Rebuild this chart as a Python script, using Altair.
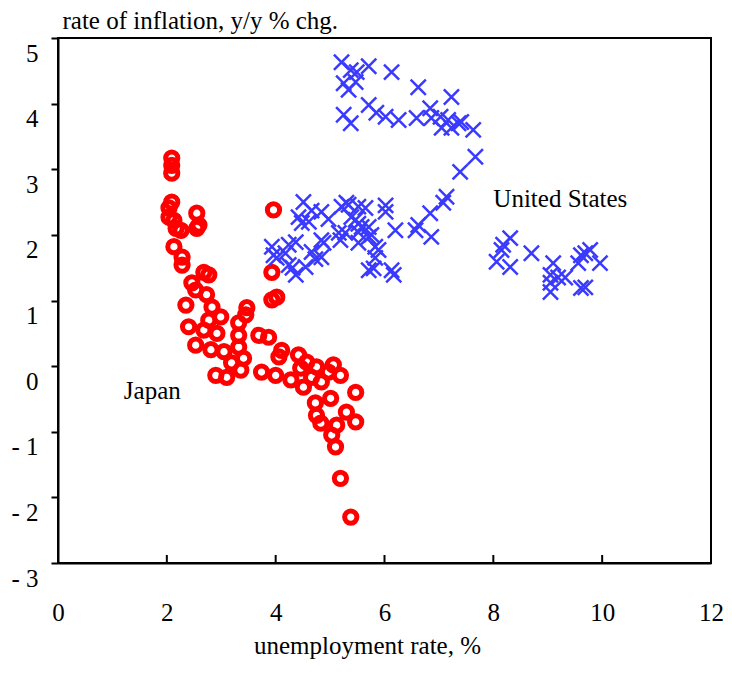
import altair as alt
import pandas as pd

# Japan: unemployment rate (%), inflation (y/y %)
jp_u = [2.09, 2.09, 2.09, 2.09, 2.04, 2.04, 2.13, 2.17, 2.26, 2.55, 2.59, 2.55, 2.13, 2.28, 2.28,
        3.96, 3.93, 4.02, 3.93, 2.68, 2.77, 2.46, 2.53, 2.73, 2.35, 2.83, 2.99, 2.77, 3.47, 3.45,
        3.32, 2.40, 2.68, 2.92, 3.32, 3.69, 3.87, 2.53, 2.81, 3.05, 3.32, 3.41, 3.19, 2.90, 3.10,
        3.36, 3.74, 4.00, 4.06, 4.11, 4.28, 4.42, 4.46, 4.51, 4.57, 4.66, 4.75, 4.84, 4.97, 5.06,
        5.19, 5.47, 5.01, 4.73, 4.75, 4.83, 5.30, 5.47, 5.12, 5.03, 5.10, 5.19, 5.38]
jp_i = [3.17, 3.06, 2.94, 2.50, 2.41, 2.27, 2.22, 2.10, 2.07, 2.33, 2.15, 2.10, 1.82, 1.66, 1.54,
        2.38, 1.43, 1.05, 1.01, 1.43, 1.39, 1.27, 1.16, 1.09, 0.93, 0.90, 0.75, 0.70, 0.89, 0.78,
        0.66, 0.60, 0.55, 0.50, 0.47, 0.47, 0.44, 0.32, 0.25, 0.22, 0.29, 0.12, 0.05, -0.14, -0.17,
        -0.06, -0.09, -0.14, 0.14, 0.24, -0.21, 0.17, -0.03, -0.32, 0.06, -0.17, -0.01, -0.24, -0.09, 0.02,
        -0.14, -0.40, -0.49, -0.56, -0.75, -0.87, -0.70, -0.85, -0.90, -1.05, -1.23, -1.71, -2.30]

# United States: unemployment rate (%), inflation (y/y %)
us_u = [5.21, 5.38, 5.49, 5.71, 6.13, 5.25, 5.47, 5.34, 6.62, 7.23, 5.71, 5.85, 5.25, 5.38, 6.02,
        6.26, 6.59, 6.84, 6.86, 7.03, 7.05, 7.17, 7.23, 7.36, 7.41, 7.63, 7.67, 7.39, 7.14,
        3.93, 3.96, 4.02, 4.18, 4.24, 4.24, 4.31, 4.37, 4.37, 4.42, 4.48, 4.51, 4.55, 4.61, 4.66,
        4.66, 4.73, 4.84, 4.84, 4.84, 4.88, 4.97, 5.16, 5.19, 5.21, 5.28, 5.30, 5.34, 5.39, 5.47,
        5.52, 5.52, 5.52, 5.52, 5.58, 5.65, 5.71, 5.71, 5.76, 5.83, 5.83, 5.89, 5.71, 5.80, 6.02,
        6.02, 6.20, 6.13, 6.17, 6.57, 6.62, 6.84, 6.86, 7.08,
        8.31, 8.18, 8.15, 8.06, 8.31, 8.70, 9.10, 9.05, 9.19, 9.32, 9.05, 9.05, 9.56, 9.61, 9.69,
        9.78, 9.96, 9.61, 9.69]
us_i = [4.63, 4.51, 4.48, 4.57, 4.48, 4.31, 4.33, 4.21, 4.25, 4.10, 3.98, 3.86, 3.83, 3.70, 3.80,
        3.75, 3.78, 3.93, 3.78, 3.80, 3.63, 3.75, 3.63, 3.70, 3.72, 3.60, 3.19, 2.96, 2.58,
        1.82, 1.69, 1.65, 1.72, 1.85, 1.54, 1.50, 1.89, 1.39, 2.27, 2.18, 2.50, 1.51, 2.20, 2.37,
        1.74, 1.63, 2.35, 1.92, 1.66, 1.88, 2.24, 2.03, 1.92, 2.43, 2.03, 2.49, 2.46, 2.27, 2.23,
        2.43, 2.17, 2.04, 1.88, 2.12, 2.41, 1.97, 2.12, 2.00, 1.82, 1.65, 1.77, 1.46, 1.49, 2.45,
        2.35, 2.07, 1.46, 1.39, 2.07, 2.15, 2.33, 1.97, 2.49,
        1.95, 1.85, 1.77, 1.59, 1.51, 1.72, 1.57, 1.39, 1.35, 1.35, 1.27, 1.13, 1.57, 1.69, 1.72,
        1.77, 1.57, 1.19, 1.20]

x_ticks = [0, 2, 4, 6, 8, 10, 12]
y_ticks = [-3, -2, -1, 0, 1, 2, 3, 4, 5]

labels = ["Japan", "United States"]
label_u = [1.21, 8.0]
label_i = [-0.50, 2.43]

FONT = "Liberation Serif"
W, H = 653, 525

jp = pd.DataFrame({"u": jp_u, "i": jp_i})
us = pd.DataFrame({"u": us_u, "i": us_i})
lab = pd.DataFrame({"name": labels, "u": label_u, "i": label_i})
tk = pd.DataFrame({"t": x_ticks})

xs = alt.Scale(domain=[0, 12], nice=False, zero=False)
ys = alt.Scale(domain=[-3, 5], nice=False, zero=False)

xax = alt.Axis(values=x_ticks, format="d", grid=False, ticks=False, tickSize=0, domainColor="black",
               domainWidth=2, labelFont=FONT, labelFontSize=25, labelColor="black",
               labelBaseline="alphabetic", labelPadding=57, labelFlush=False,
               title="unemployment rate, %", titleFont=FONT, titleFontSize=25,
               titleFontWeight="normal", titleColor="black", titleAlign="center",
               titleBaseline="alphabetic", titleX=309, titleY=90)
yax = alt.Axis(values=y_ticks, format="d", grid=False, ticks=True, tickSize=7, tickWidth=2,
               tickColor="black", domainColor="black", domainWidth=2, labelFont=FONT,
               labelFontSize=25, labelColor="black", labelBaseline="alphabetic", labelOffset=23,
               labelPadding=13, labelFlush=False,
               labelExpr="datum.value < 0 ? '- ' + abs(datum.value) : datum.label",
               title="rate of inflation, y/y % chg.", titleFont=FONT, titleFontSize=25,
               titleFontWeight="normal", titleColor="black", titleAngle=0, titleAlign="left",
               titleBaseline="alphabetic", titleX=4, titleY=-10)

jp_layer = alt.Chart(jp).mark_point(shape="circle", filled=False, color="#ff0000",
                                    strokeWidth=5, size=150, opacity=1).encode(
    x=alt.X("u:Q", scale=xs, axis=xax),
    y=alt.Y("i:Q", scale=ys, axis=yax),
)
us_layer = alt.Chart(us).mark_point(shape="M-1,-1L1,1M-1,1L1,-1", filled=False, color="#3a3aff",
                                    strokeWidth=2.5, size=230, opacity=1).encode(
    x=alt.X("u:Q", scale=xs), y=alt.Y("i:Q", scale=ys))
text_layer = alt.Chart(lab).mark_text(font=FONT, fontSize=25, align="left", baseline="alphabetic",
                                      color="black").encode(
    x=alt.X("u:Q", scale=xs), y=alt.Y("i:Q", scale=ys), text="name:N")
tick_layer = alt.Chart(tk).mark_rule(color="black", strokeWidth=2).encode(
    x=alt.X("t:Q", scale=xs), y=alt.value(H - 8), y2=alt.value(H))

chart = alt.layer(tick_layer, jp_layer, us_layer, text_layer).properties(
    width=W, height=H, autosize="none",
    padding={"left": 50, "top": 30, "right": 13, "bottom": 96},
).configure_view(stroke="black", strokeWidth=2)

chart.save("out.html", embed_options={"renderer": "svg", "actions": False})
